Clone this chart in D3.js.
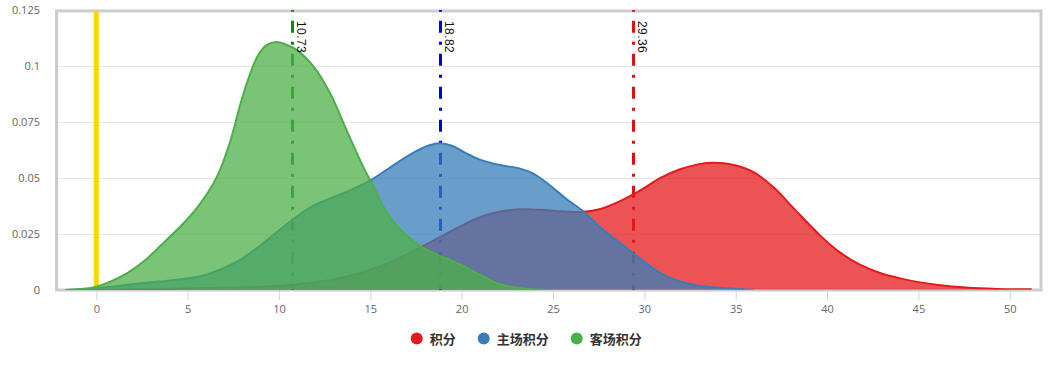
<!DOCTYPE html>
<html>
<head>
<meta charset="utf-8">
<script src="https://cdn.jsdelivr.net/npm/d3@7"></script>
<style>
  html, body { margin: 0; padding: 0; background: #fff; }
  svg { display: block; }
</style>
</head>
<body>
<svg id="chart" width="1049" height="365"></svg>
<script>
// ---- data ----
const seriesNames = ["积分", "主场积分", "客场积分"];
const seriesColors = ["#e41a1c", "#377eb8", "#4daf4a"];

const totalX = [-1.7, 2, 5, 8, 9.5, 12.2, 14.1, 15.9, 17.2, 18.3, 18.8, 19.9, 21.0, 22.1, 23.2, 24.3, 25.4, 26.5, 27.6, 28.7, 29.8, 30.85, 31.95, 33.0, 33.8, 34.9, 36.0, 37.1, 38.2, 39.6, 40.7, 41.8, 42.9, 44.0, 45.1, 46.2, 47.6, 49.3, 51.2];
const totalY = [0, 0.0003, 0.0007, 0.0012, 0.0016, 0.0037, 0.0067, 0.0117, 0.0168, 0.0214, 0.0236, 0.0283, 0.0325, 0.035, 0.036, 0.0358, 0.0352, 0.0348, 0.0362, 0.0398, 0.0446, 0.0499, 0.0539, 0.0562, 0.0568, 0.0558, 0.0525, 0.0456, 0.0362, 0.0245, 0.0168, 0.0113, 0.0076, 0.0052, 0.0034, 0.0021, 0.0011, 0.0005, 0.0003];

const homeX = [-1.7, 0, 2.4, 5.1, 6.0, 6.95, 7.9, 8.8, 9.7, 10.6, 11.7, 12.8, 13.9, 15.0, 16.1, 17.2, 18.2, 18.8, 19.5, 20.2, 21.0, 22.1, 23.2, 23.9, 24.8, 25.75, 26.7, 27.6, 28.7, 29.8, 30.85, 31.95, 33.0, 34.1, 36.0];
const homeY = [0, 0.0007, 0.003, 0.0052, 0.0068, 0.0097, 0.0136, 0.0188, 0.0246, 0.0305, 0.0368, 0.0409, 0.0445, 0.0489, 0.0548, 0.0606, 0.0645, 0.0655, 0.0643, 0.0612, 0.0582, 0.0558, 0.0542, 0.0521, 0.0469, 0.0405, 0.0348, 0.0278, 0.0208, 0.0138, 0.0077, 0.0038, 0.0018, 0.001, 0];

const awayX = [-1.7, 0, 1.5, 2.6, 3.7, 4.8, 5.7, 6.6, 7.3, 8.05, 8.8, 9.3, 9.85, 10.4, 11.0, 11.9, 12.8, 13.7, 14.6, 15.2, 15.9, 16.8, 17.7, 18.8, 19.9, 21.0, 22.1, 23.2, 24.8];
const awayY = [0, 0.0015, 0.0066, 0.0128, 0.0212, 0.0300, 0.0387, 0.0505, 0.0655, 0.0875, 0.104, 0.1092, 0.1107, 0.1095, 0.107, 0.0997, 0.0878, 0.0714, 0.0552, 0.0458, 0.0345, 0.0257, 0.0198, 0.0152, 0.0115, 0.0068, 0.0026, 0.0008, 0];

const meanValues = [29.36, 18.82, 10.73];
const meanColors = ["#dd1111", "#0000dd", "#118811"];
const zeroLineValue = 0;

const xTicks = [0, 5, 10, 15, 20, 25, 30, 35, 40, 45, 50];
const yTicks = [0, 0.025, 0.05, 0.075, 0.1, 0.125];
const yTickLabels = ["0", "0.025", "0.05", "0.075", "0.1", "0.125"];

// ---- layout ----
const svg = d3.select("#chart");
const plot = { left: 57, right: 1041, top: 11, bottom: 290 };

const x = d3.scaleLinear().domain([-2.15, 51.71]).range([plot.left, plot.right]);
const y = d3.scaleLinear().domain([0, 0.125]).range([290, 10]);

const series = [
  { name: seriesNames[0], color: seriesColors[0], xs: totalX, ys: totalY },
  { name: seriesNames[1], color: seriesColors[1], xs: homeX, ys: homeY },
  { name: seriesNames[2], color: seriesColors[2], xs: awayX, ys: awayY }
];

const defs = svg.append("defs");
defs.append("clipPath").attr("id", "clip")
  .append("rect")
  .attr("x", plot.left + 1).attr("y", plot.top)
  .attr("width", plot.right - plot.left - 2).attr("height", plot.bottom - plot.top - 0.5);

// gridlines
svg.append("g").selectAll("line")
  .data(yTicks.filter(v => v > 0 && v < 0.125))
  .join("line")
  .attr("x1", plot.left).attr("x2", plot.right)
  .attr("y1", d => Math.round(y(d)) + 0.5).attr("y2", d => Math.round(y(d)) + 0.5)
  .attr("stroke", "#e6e6e6").attr("stroke-width", 1);

// plot border
svg.append("rect")
  .attr("x", plot.left - 0.5).attr("y", plot.top)
  .attr("width", plot.right - plot.left + 0.5).attr("height", plot.bottom - plot.top)
  .attr("fill", "none").attr("stroke", "#cccccc").attr("stroke-width", 3);

// y labels
svg.append("g").selectAll("text")
  .data(yTicks)
  .join("text")
  .attr("x", 40).attr("y", d => y(d) + 4)
  .attr("text-anchor", "end")
  .attr("font-family", "'Open Sans', sans-serif").attr("font-size", 11)
  .attr("fill", "#666")
  .text((d, i) => yTickLabels[i]);

// x axis ticks
const xAxis = d3.axisBottom(x).tickValues(xTicks).tickSize(9).tickPadding(5).tickFormat(d3.format("d"));
const gx = svg.append("g").attr("transform", `translate(0,${plot.bottom + 1})`).call(xAxis);
gx.select(".domain").remove();
gx.selectAll(".tick line").attr("stroke", "#ccd6eb");
gx.selectAll(".tick text")
  .attr("font-family", "'Open Sans', sans-serif").attr("font-size", 11).attr("fill", "#666");

// plot lines (under series)
const pl = svg.append("g");
pl.append("line")
  .attr("x1", x(zeroLineValue)).attr("x2", x(zeroLineValue))
  .attr("y1", plot.top).attr("y2", plot.bottom)
  .attr("stroke", "#ffd700").attr("stroke-width", 5);
meanValues.forEach((v, i) => {
  const px = Math.round(x(v)) + 0.5;
  pl.append("line")
    .attr("x1", px).attr("x2", px)
    .attr("y1", plot.top - 1).attr("y2", plot.bottom)
    .attr("stroke", meanColors[i]).attr("stroke-width", 3)
    .attr("stroke-dasharray", "12,9,3,9").attr("stroke-dashoffset", 22.3);
});

// series
const sg = svg.append("g").attr("clip-path", "url(#clip)");
const curve = d3.curveCatmullRom.alpha(0.5);
const area = d3.area().curve(curve).x(d => x(d[0])).y0(y(0)).y1(d => y(d[1]));
const line = d3.line().curve(curve).x(d => x(d[0])).y(d => y(d[1]));
series.forEach(s => {
  const pts = s.xs.map((v, i) => [v, s.ys[i]]);
  sg.append("path").datum(pts).attr("d", area)
    .attr("fill", s.color).attr("fill-opacity", 0.75);
  sg.append("path").datum(pts).attr("d", line)
    .attr("fill", "none").attr("stroke", s.color).attr("stroke-width", 2);
});

// plot line labels
meanValues.forEach((v, i) => {
  const px = Math.round(x(v)) + 0.5;
  svg.append("text")
    .attr("transform", `translate(${px + 4},${21}) rotate(90)`)
    .attr("font-family", "'Liberation Sans', Arial, sans-serif").attr("font-size", 12)
    .attr("letter-spacing", 0.4)
    .attr("fill", "#111")
    .text(v.toFixed(2));
});

// legend
const lg = svg.append("g");
const items = [];
series.forEach(s => {
  const g = lg.append("g");
  g.append("circle").attr("cx", 0).attr("cy", 0).attr("r", 6).attr("fill", s.color);
  const t = g.append("text").attr("x", 13).attr("y", 5)
    .attr("font-family", "'Noto Sans CJK SC', sans-serif").attr("font-size", 13)
    .attr("font-weight", "bold").attr("fill", "#333").text(s.name);
  const w = t.node().getComputedTextLength();
  items.push({ g, w });
});
let pos = 0;
items.forEach(it => {
  it.g.attr("transform", `translate(${pos},0)`);
  pos += 13 + it.w + 28;
});
lg.attr("transform", `translate(416.7,338.5)`);
</script>
</body>
</html>
